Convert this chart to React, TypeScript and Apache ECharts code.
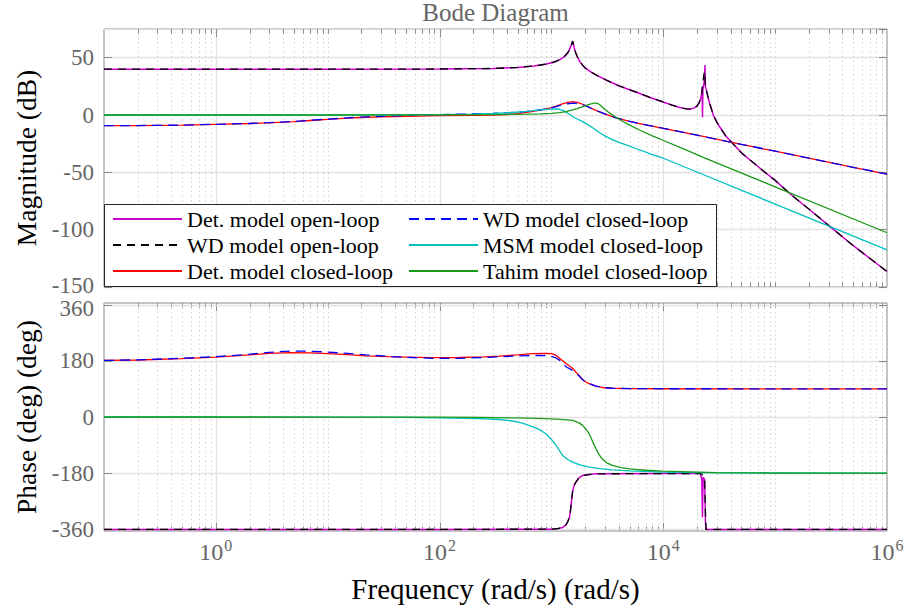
import React, { useEffect, useRef } from 'react';
import * as echarts from 'echarts';

// ---- Frequency grids (rad/s) and responses ----

// Open-loop magnitude (dB)
const magOpenF = [0.1, 1, 10, 100, 300, 500, 700, 800, 900, 1000, 1100, 1200, 1300, 1350, 1400, 1450, 1500, 1550, 1600, 1650, 1700, 1800, 1900, 2000, 2250, 2500, 3080, 4000, 5000, 6100, 7500, 9800, 12000, 14000, 16000, 17500, 19000, 20000, 21000, 21700, 22100, 22300, 22400, 22600, 23300, 23600, 23800, 24500, 25200, 26000, 28000, 30000, 32000, 36000, 41600, 50000, 60000, 80000, 100000, 140000, 200000, 324000, 500000, 1000000];
const magDetOpen = [40, 40, 40, 40.1, 40.6, 41.5, 42.8, 43.6, 44.5, 45.5, 46.8, 48.5, 50.8, 52.5, 54.3, 57, 60.5, 64.5, 58.5, 54, 51, 46.5, 43.5, 41, 37.7, 35, 30.5, 25.5, 22, 19, 15.5, 11.6, 8.6, 6.5, 5.4, 5.2, 6.2, 7.8, 11, 15, 19, 24, -2, 22, 30, 43.6, 25, 20, 15, 10, 0, -6, -10.5, -18, -24.7, -33, -39.5, -49.5, -57, -69.8, -82, -98.9, -114, -136.5];
const magWdOpen = [40, 40, 40, 40.1, 40.6, 41.5, 42.8, 43.6, 44.5, 45.5, 46.8, 48.5, 50.8, 52.5, 54.3, 57, 60.5, 64.5, 58.5, 54, 51, 46.5, 43.5, 41, 37.7, 35, 30.5, 25.5, 22, 19, 15.5, 11.6, 8.6, 6.5, 5.4, 5.2, 6.2, 7.8, 11, 15, 19, 24, 26, 29, 37.8, 32, 26, 20, 15, 10, 0, -6, -10.5, -18, -24.7, -33, -39.5, -49.5, -57, -69.8, -82, -98.9, -114, -136.5];

// Closed-loop magnitude (dB)
const magClF = [0.1, 0.2, 0.5, 1, 2, 3, 5, 7, 10, 15, 20, 30, 50, 100, 200, 300, 400, 500, 600, 800, 1000, 1100, 1200, 1300, 1400, 1500, 1550, 1700, 1850, 2000, 2250, 2500, 2800, 3080, 3780, 5000, 6000, 10000, 20000, 50000, 100000, 200000, 500000, 1000000];
const magDetCl = [-9.3, -9.2, -8.8, -8.1, -7.4, -6.8, -5.8, -4.8, -3.8, -2.8, -2.2, -1.6, -1.1, -0.6, -0.3, -0.1, 0.3, 1.2, 2.2, 4.3, 6.5, 7.8, 9, 10.2, 11, 11.5, 11.6, 11, 9.8, 8.5, 6, 4, 2, 0.5, -2.5, -5.5, -7.3, -11.6, -17.6, -25.6, -31.6, -37.6, -45.6, -51.6];
const magWdCl = [-9.3, -9.2, -8.8, -8.1, -7.4, -6.7, -5.6, -4.6, -3.6, -2.5, -1.8, -1.1, -0.4, 0.4, 0.9, 1.4, 1.9, 2.5, 3.1, 4.5, 6.2, 7.3, 8.3, 9.2, 9.8, 10.2, 10.3, 10, 9.3, 8.3, 6, 4, 2, 0.5, -2.5, -5.5, -7.3, -11.6, -17.6, -25.6, -31.6, -37.6, -45.6, -51.6];

const magMsmF = [0.1, 10, 50, 100, 200, 300, 450, 600, 800, 900, 1000, 1100, 1180, 1270, 1350, 1450, 1550, 1700, 1900, 2100, 2370, 2700, 3080, 3500, 4000, 5000, 6100, 8000, 10000, 20000, 100000, 1000000];
const magMsm = [0, 0, 0.1, 0.3, 0.8, 1.3, 2.2, 3.1, 4.4, 4.9, 5.2, 5.3, 5.0, 4, 2.5, 0.7, -1.5, -3.5, -5.8, -8.2, -11.6, -15.5, -18.9, -21.5, -23.8, -27.2, -30.3, -34.5, -37.7, -49.7, -77.7, -117.7];

const magTahimF = [0.1, 10, 100, 300, 600, 800, 1000, 1180, 1350, 1550, 1700, 1850, 2000, 2150, 2300, 2420, 2507, 2600, 2700, 2850, 3000, 3200, 3400, 3780, 4200, 5000, 6100, 8000, 9800, 15000, 23900, 100000, 1000000];
const magTahim = [0, 0, 0.1, 0.3, 0.7, 1.0, 1.4, 2, 3, 4.4, 5.6, 6.8, 8, 9.1, 9.9, 10.3, 10.4, 10, 9, 7, 5, 2.8, 1, -2, -4.8, -8.8, -13.1, -18.2, -21.8, -29.3, -37.8, -62.7, -102.7];

// Open-loop phase (deg)
const phOpenF = [0.1, 100, 1000, 1150, 1260, 1350, 1400, 1450, 1480, 1510, 1550, 1600, 1650, 1750, 1900, 2200, 2500, 10000, 21500, 22100, 22400, 22700, 23400, 23800, 24100, 1000000];
const phDetOpen = [-360, -360, -359, -357, -353.5, -345, -335, -321, -300, -270, -235.6, -218, -209, -196, -187, -184, -182, -181, -181, -200, -321, -193, -200, -330, -360, -360];
const phWdOpen = [-360, -360, -359, -357, -353.5, -345, -335, -321, -300, -270, -235.6, -218, -209, -196, -187, -184, -182, -181, -181, -183, -186, -188, -195, -300, -360, -360];

// Closed-loop phase (deg)
const phClF = [0.1, 0.2, 0.5, 1, 2, 3, 4.6, 7, 10, 15, 22, 35, 50, 87, 150, 250, 343, 500, 676, 887, 1000, 1100, 1180, 1260, 1350, 1450, 1550, 1650, 1760, 1900, 2030, 2170, 2500, 2840, 3500, 5000, 10000, 1000000];
const phDetCl = [181, 182.5, 187, 192, 199, 203.5, 206, 205.5, 203, 199.5, 196, 193.5, 192, 190, 190.5, 192.5, 195, 199, 202.6, 204, 203, 198, 188, 180, 171.6, 163, 155.5, 144, 134, 120, 112, 107, 99, 94.5, 92, 91, 90.5, 90];
const phWdCl = [181, 183, 188, 193, 201, 207, 211, 210.5, 208, 203.5, 199, 194, 191, 188, 188, 190.5, 193, 195.5, 197, 196.5, 194, 189, 182, 172, 161, 155, 149, 140, 132, 119, 112, 107, 99, 94.5, 92, 91, 90.5, 90];

const phMsmF = [0.1, 10, 50, 100, 228, 340, 450, 540, 630, 760, 887, 1000, 1100, 1180, 1260, 1400, 1550, 1800, 2170, 2700, 3500, 5000, 9800, 30000, 1000000];
const phMsm = [0, -0.3, -1.2, -2.5, -5, -8, -12.8, -18.5, -26.7, -38, -53, -72, -91, -108, -123, -136, -144.6, -153.5, -160.7, -165.5, -169, -172.5, -176.8, -179, -180];

const phTahimF = [0.1, 10, 100, 228, 500, 887, 1200, 1550, 1750, 1900, 2050, 2170, 2330, 2500, 2650, 2840, 3100, 3500, 4200, 5000, 7000, 9800, 30000, 100000, 1000000];
const phTahim = [0, -0.1, -0.5, -1.5, -3, -5, -7.5, -10.6, -18, -26.7, -40, -53, -78, -101.6, -119, -134, -146, -155, -162, -166, -170.5, -173.5, -178, -179.5, -180];

// Legend entries
const legendLeft = ['Det. model open-loop', 'WD model open-loop', 'Det. model closed-loop'];
const legendRight = ['WD model closed-loop', 'MSM model closed-loop', 'Tahim model closed-loop'];

// Axis ranges and tick settings
const freqMin = 0.1;
const freqMax = 1e6;
const magRange = [-150, 75];
const magStep = 50;
const phRange = [-365, 365];
const phTicks = [-360, -180, 0, 180, 360];

const SERIF = 'Liberation Serif';
const TICKFONT = 'Liberation Sans Narrow';
const TICK_COLOR = '#666666';
const FRAME = '#8a8a8a';
const GRID_MAJOR = '#e2e2e2';
const GRID_MINOR = '#c8c8c8';
const TICK_SIZE = 23;

// log-scale tick positions: m * 10^k (major at even decades)
const logTicks: number[][] = [];
for (let k = -1; k <= 5; k++) {
  for (let m = 1; m <= 9; m++) {
    if (k === -1 && m === 1) continue;
    logTicks.push([m * Math.pow(10, k), m === 1 && k % 2 === 0 ? 1 : 0]);
  }
}

const renderLogGrid = (params: any, api: any) => {
  const f = api.value(0);
  const major = api.value(1) === 1;
  const cs = params.coordSys;
  const x = Math.round(api.coord([f, 0])[0]) + 0.5;
  const top = cs.y;
  const bottom = cs.y + cs.height;
  const len = major ? 8 : 4.5;
  return {
    type: 'group',
    silent: true,
    children: [
      {
        type: 'line',
        shape: { x1: x, y1: top, x2: x, y2: bottom },
        style: major
          ? { stroke: GRID_MAJOR, lineWidth: 1.3 }
          : { stroke: GRID_MINOR, lineWidth: 1, lineDash: [1.2, 3.3] },
      },
      { type: 'line', shape: { x1: x, y1: top, x2: x, y2: top + len }, style: { stroke: FRAME, lineWidth: 1 } },
      { type: 'line', shape: { x1: x, y1: bottom, x2: x, y2: bottom - len }, style: { stroke: FRAME, lineWidth: 1 } },
    ],
  };
};

// horizontal grid line with inward ticks on both sides, for the phase panel
const renderPhaseGrid = (params: any, api: any) => {
  const v = api.value(1);
  const cs = params.coordSys;
  const y = Math.round(api.coord([1, v])[1]) + 0.5;
  const left = cs.x;
  const right = cs.x + cs.width;
  return {
    type: 'group',
    silent: true,
    children: [
      { type: 'line', shape: { x1: left, y1: y, x2: right, y2: y }, style: { stroke: GRID_MAJOR, lineWidth: 1.3 } },
      { type: 'line', shape: { x1: left, y1: y, x2: left + 8, y2: y }, style: { stroke: FRAME, lineWidth: 1 } },
      { type: 'line', shape: { x1: right, y1: y, x2: right - 8, y2: y }, style: { stroke: FRAME, lineWidth: 1 } },
    ],
  };
};

const lineSeries = (
  name: string,
  fs: number[],
  vs: number[],
  color: string,
  width: number,
  dash: any,
  panel: number,
) => ({
  type: 'line',
  name,
  xAxisIndex: panel,
  yAxisIndex: panel * 2,
  data: fs.map((f, i) => [f, vs[i]]),
  symbol: 'none',
  showSymbol: false,
  smooth: false,
  clip: true,
  lineStyle: { color, width, type: dash },
  itemStyle: { color },
  emphasis: { disabled: true },
  z: 2,
});

const MAGENTA = '#cc00cc';
const BLACK = '#000000';
const RED = '#ff0000';
const BLUE = '#0000ff';
const CYAN = '#00bfbf';
const GREEN = '#1a9a1a';
const DASH_BLACK = [8, 6];
const DASH_BLUE = [10, 6];

const tickText = { color: TICK_COLOR, fontFamily: TICKFONT, fontSize: TICK_SIZE };

// the two labels where the panels meet sit a few pixels apart
const tickRich = {
  up: { ...tickText, padding: [0, 0, 4, 0] },
  down: { ...tickText, padding: [7, 0, 0, 0] },
};

const xAxisBase = (grid: number, showLabel: boolean) => ({
  type: 'log',
  logBase: 10,
  gridIndex: grid,
  min: freqMin,
  max: freqMax,
  axisLine: { show: false },
  axisTick: { show: false },
  splitLine: { show: false },
  minorTick: { show: false },
  axisLabel: {
    show: showLabel,
    interval: 0,
    hideOverlap: false,
    margin: 6,
    formatter: (v: number) => {
      const e = Math.round(Math.log10(v));
      return e % 2 === 0 ? `{b|10}{s|${e}}` : '';
    },
    rich: {
      b: { fontSize: 24, fontFamily: TICKFONT, color: TICK_COLOR },
      s: { fontSize: 16, fontFamily: TICKFONT, color: TICK_COLOR, padding: [0, 0, 14, 1] },
    },
  },
});

const nameStyle = { fontFamily: SERIF, fontSize: 27.5, color: '#000' };

const option: any = {
  animation: false,
  backgroundColor: '#ffffff',
  grid: [
    { left: 104, top: 29, width: 783, height: 258, show: true, borderColor: FRAME, borderWidth: 1, backgroundColor: '#fff', outerBoundsMode: 'none' },
    { left: 104, top: 303, width: 783, height: 228, show: true, borderColor: FRAME, borderWidth: 1, backgroundColor: '#fff', outerBoundsMode: 'none' },
  ],
  xAxis: [
    xAxisBase(0, false),
    {
      ...xAxisBase(1, true),
      name: 'Frequency (rad/s) (rad/s)',
      nameLocation: 'middle',
      nameGap: 43,
      nameTextStyle: { ...nameStyle, fontSize: 29 },
    },
  ],
  yAxis: [
    {
      type: 'value',
      gridIndex: 0,
      min: magRange[0],
      max: magRange[1],
      interval: magStep,
      position: 'left',
      axisLine: { show: false },
      axisTick: { show: true, inside: true, length: 8, lineStyle: { color: FRAME } },
      splitLine: { show: true, lineStyle: { color: GRID_MAJOR, width: 1.3 } },
      axisLabel: {
        ...tickText,
        margin: 10,
        showMaxLabel: false,
        formatter: (v: number) => (v === magRange[0] ? `{up|${v}}` : String(v)),
        rich: tickRich,
      },
      name: 'Magnitude (dB)',
      nameLocation: 'middle',
      nameGap: 57,
      nameTextStyle: nameStyle,
    },
    {
      type: 'value',
      gridIndex: 0,
      min: magRange[0],
      max: magRange[1],
      interval: magStep,
      position: 'right',
      axisLine: { show: false },
      axisTick: { show: true, inside: true, length: 8, lineStyle: { color: FRAME } },
      splitLine: { show: false },
      axisLabel: { show: false },
    },
    {
      type: 'value',
      gridIndex: 1,
      min: phRange[0],
      max: phRange[1],
      interval: 5,
      position: 'left',
      axisLine: { show: false },
      axisTick: { show: false },
      splitLine: { show: false },
      axisLabel: {
        ...tickText,
        margin: 10,
        interval: 0,
        formatter: (v: number) => {
          const t = phTicks.find((p) => Math.abs(p - v) < 1e-6);
          if (t === undefined) return '';
          return t === phTicks[phTicks.length - 1] ? `{down|${t}}` : String(t);
        },
        rich: tickRich,
      },
      name: 'Phase (deg) (deg)',
      nameLocation: 'middle',
      nameGap: 57,
      nameTextStyle: nameStyle,
    },
  ],
  legend: [
    {
      data: legendLeft,
      orient: 'vertical',
      left: 112,
      top: 208,
      padding: 0,
      itemWidth: 69,
      itemHeight: 14,
      itemGap: 4,
      selectedMode: false,
      itemStyle: { opacity: 0 },
      textStyle: { fontFamily: SERIF, fontSize: 22, color: '#000' },
      z: 6,
    },
    {
      data: legendRight,
      orient: 'vertical',
      left: 408,
      top: 208,
      padding: 0,
      itemWidth: 69,
      itemHeight: 14,
      itemGap: 4,
      selectedMode: false,
      itemStyle: { opacity: 0 },
      textStyle: { fontFamily: SERIF, fontSize: 22, color: '#000' },
      z: 6,
    },
  ],
  graphic: [
    {
      type: 'text',
      x: 495.5,
      y: 12,
      z: 6,
      style: { text: 'Bode Diagram', fontFamily: SERIF, fontSize: 25, fill: '#666666', align: 'center', verticalAlign: 'middle' },
    },
    {
      type: 'rect',
      z: 5,
      shape: { x: 104.5, y: 204.5, width: 612, height: 82 },
      style: { fill: '#ffffff', stroke: '#262626', lineWidth: 1 },
    },
  ],
  series: [
    { type: 'custom', xAxisIndex: 0, yAxisIndex: 0, data: logTicks, renderItem: renderLogGrid, silent: true, z: 1 },
    { type: 'custom', xAxisIndex: 1, yAxisIndex: 2, data: logTicks, renderItem: renderLogGrid, silent: true, z: 1 },
    { type: 'custom', xAxisIndex: 1, yAxisIndex: 2, data: phTicks.map((t) => [1, t]), renderItem: renderPhaseGrid, silent: true, z: 1 },

    lineSeries(legendLeft[0], magOpenF, magDetOpen, MAGENTA, 1.5, 'solid', 0),
    lineSeries(legendLeft[1], magOpenF, magWdOpen, BLACK, 1.3, DASH_BLACK, 0),
    lineSeries(legendLeft[2], magClF, magDetCl, RED, 1.3, 'solid', 0),
    lineSeries(legendRight[0], magClF, magWdCl, BLUE, 1.3, DASH_BLUE, 0),
    lineSeries(legendRight[1], magMsmF, magMsm, CYAN, 1.3, 'solid', 0),
    lineSeries(legendRight[2], magTahimF, magTahim, GREEN, 1.3, 'solid', 0),

    lineSeries(legendLeft[0], phOpenF, phDetOpen, MAGENTA, 1.5, 'solid', 1),
    lineSeries(legendLeft[1], phOpenF, phWdOpen, BLACK, 1.3, DASH_BLACK, 1),
    lineSeries(legendLeft[2], phClF, phDetCl, RED, 1.3, 'solid', 1),
    lineSeries(legendRight[0], phClF, phWdCl, BLUE, 1.3, DASH_BLUE, 1),
    lineSeries(legendRight[1], phMsmF, phMsm, CYAN, 1.3, 'solid', 1),
    lineSeries(legendRight[2], phTahimF, phTahim, GREEN, 1.3, 'solid', 1),
  ],
};

export default function App() {
  const ref = useRef<HTMLDivElement>(null);
  useEffect(() => {
    if (!ref.current) return;
    const chart = echarts.init(ref.current, null, { renderer: 'svg' });
    chart.setOption(option);
    return () => chart.dispose();
  }, []);
  return (
    <div
      ref={ref}
      style={{ position: 'absolute', left: 0, top: 0, width: 909, height: 609, background: '#fff' }}
    />
  );
}
